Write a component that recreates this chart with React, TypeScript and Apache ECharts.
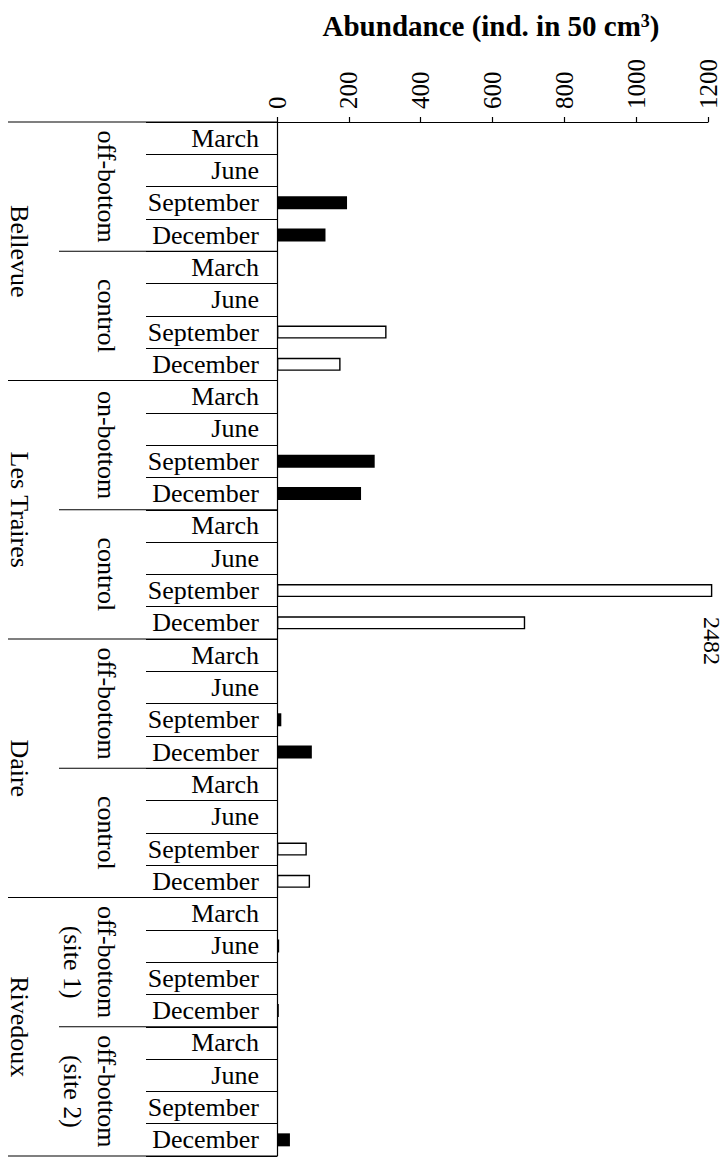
import React, { useEffect, useRef } from "react";
import * as echarts from "echarts";

// ---------- data ----------
const sites = ["Bellevue", "Les Traires", "Daire", "Rivedoux"];
const treatmentLabels: string[][] = [
  ["off-bottom"],
  ["control"],
  ["on-bottom"],
  ["control"],
  ["off-bottom"],
  ["control"],
  ["off-bottom", "(site 1)"],
  ["off-bottom", "(site 2)"],
];
const treatmentFilled = [true, false, true, false, true, false, true, true];
const months = ["March", "June", "September", "December"];

const bellevueOffBottom = [0, 0, 195, 135];
const bellevueControl = [0, 0, 305, 177];
const lesTrairesOnBottom = [0, 0, 272, 234];
const lesTrairesControl = [0, 0, 2482, 691];
const daireOffBottom = [0, 0, 12, 97];
const daireControl = [0, 0, 83, 92];
const rivedouxSite1 = [0, 6, 0, 5];
const rivedouxSite2 = [0, 0, 0, 36];

const seriesValues = [
  bellevueOffBottom,
  bellevueControl,
  lesTrairesOnBottom,
  lesTrairesControl,
  daireOffBottom,
  daireControl,
  rivedouxSite1,
  rivedouxSite2,
];

const X_MIN = 0;
const X_MAX = 1200;
const X_INTERVAL = 200;
const BREAK_CAP = 1212; // broken bar drawn slightly past axis end

const FONT = '"Liberation Serif", "Times New Roman", serif';

export default function App() {
  const ref = useRef<HTMLDivElement>(null);

  useEffect(() => {
    document.body.style.margin = "0";
    const el = ref.current!;
    const chart = echarts.init(el, null, { renderer: "svg" });

    const categories: string[] = [];
    const data: any[] = [];
    seriesValues.forEach((vals, g) => {
      vals.forEach((v, m) => {
        categories.push(String(g * 4 + m));
        const filled = treatmentFilled[g];
        const item: any = {
          value: Math.min(v, BREAK_CAP),
          itemStyle: filled || v === 0
            ? { color: "#000", borderColor: "#000", borderWidth: 0 }
            : { color: "#fff", borderColor: "#000", borderWidth: 1.4 },
        };
        if (v > X_MAX) {
          item.label = {
            show: true,
            formatter: String(v),
            position: ["100%", "100%"],
            offset: [44, 0],
            rotate: -90,
            align: "center",
            verticalAlign: "middle",
            fontFamily: FONT,
            fontSize: 24,
            color: "#000",
          };
        }
        data.push(item);
      });
    });

    chart.setOption({
      animation: false,
      grid: { left: 277, right: 18, top: 122, bottom: 4, containLabel: false },
      xAxis: {
        type: "value",
        position: "top",
        min: X_MIN,
        max: X_MAX,
        interval: X_INTERVAL,
        axisLine: { show: true, lineStyle: { color: "#000", width: 1.2 } },
        axisTick: { show: true, length: 5, lineStyle: { color: "#000", width: 1.2 } },
        splitLine: { show: false },
        axisLabel: {
          rotate: -90,
          margin: 13,
          fontFamily: FONT,
          fontSize: 25,
          color: "#000",
          formatter: (v: number) => String(v),
        },
      },
      yAxis: {
        type: "category",
        inverse: true,
        data: categories,
        axisLine: { show: true, lineStyle: { color: "#000", width: 1.2 } },
        axisTick: {
          show: true,
          interval: 0,
          length: 131,
          alignWithLabel: false,
          lineStyle: { color: "#000", width: 1.2 },
        },
        axisLabel: {
          interval: 0,
          margin: 18,
          fontFamily: FONT,
          fontSize: 26,
          color: "#000",
          formatter: (_v: string, i: number) => months[i % 4],
        },
        splitLine: { show: false },
      },
      series: [
        {
          type: "bar",
          data,
          barWidth: 13,
          clip: false,
        },
      ],
    });

    const c0 = chart.convertToPixel({ yAxisIndex: 0 }, 0) as number;
    const c1 = chart.convertToPixel({ yAxisIndex: 0 }, 1) as number;
    const half = (c1 - c0) / 2;
    const rowTop = (i: number) =>
      (chart.convertToPixel({ yAxisIndex: 0 }, i) as number) - half;
    const rowBottom = (i: number) =>
      (chart.convertToPixel({ yAxisIndex: 0 }, i) as number) + half;
    const axisX = chart.convertToPixel({ xAxisIndex: 0 }, 0) as number;

    const lineStyle = { stroke: "#000", lineWidth: 1.2 };
    const graphics: any[] = [];
    // site separators
    [0, 8, 16, 24].forEach((r) => {
      const y = rowTop(r);
      graphics.push({
        type: "line",
        silent: true,
        shape: { x1: 8, y1: y, x2: axisX, y2: y },
        style: lineStyle,
      });
    });
    {
      const y = rowBottom(31);
      graphics.push({
        type: "line",
        silent: true,
        shape: { x1: 8, y1: y, x2: axisX, y2: y },
        style: lineStyle,
      });
    }
    // treatment separators
    [4, 12, 20, 28].forEach((r) => {
      const y = rowTop(r);
      graphics.push({
        type: "line",
        silent: true,
        shape: { x1: 59, y1: y, x2: axisX, y2: y },
        style: lineStyle,
      });
    });
    // site labels
    sites.forEach((s, i) => {
      const y = (rowTop(i * 8) + rowBottom(i * 8 + 7)) / 2;
      graphics.push({
        type: "text",
        silent: true,
        x: 19,
        y,
        rotation: -Math.PI / 2,
        style: {
          text: s,
          fontFamily: FONT,
          fontSize: 26,
          fill: "#000",
          align: "center",
          verticalAlign: "middle",
        },
      });
    });
    // treatment labels
    treatmentLabels.forEach((lines, g) => {
      const y = (rowTop(g * 4) + rowBottom(g * 4 + 3)) / 2;
      lines.forEach((t, k) => {
        graphics.push({
          type: "text",
          silent: true,
          x: 106 - k * 34,
          y,
          rotation: -Math.PI / 2,
          style: {
            text: t,
            fontFamily: FONT,
            fontSize: 26,
            fill: "#000",
            align: "center",
            verticalAlign: "middle",
          },
        });
      });
    });
    // title with superscript
    graphics.push({
      type: "text",
      silent: true,
      x: 491,
      y: 26,
      style: {
        text: "{t|Abundance (ind. in 50 cm}{s|3}{t|)}",
        fontFamily: FONT,
        fill: "#000",
        align: "center",
        verticalAlign: "middle",
        rich: {
          t: {
            fontFamily: FONT,
            fontWeight: "bold",
            fontSize: 29,
            fill: "#000",
            verticalAlign: "bottom",
          },
          s: {
            fontFamily: FONT,
            fontWeight: "bold",
            fontSize: 18,
            fill: "#000",
            verticalAlign: "top",
          },
        },
      },
    });

    chart.setOption({ graphic: graphics });

    return () => chart.dispose();
  }, []);

  return <div ref={ref} style={{ width: 726, height: 1160 }} />;
}
